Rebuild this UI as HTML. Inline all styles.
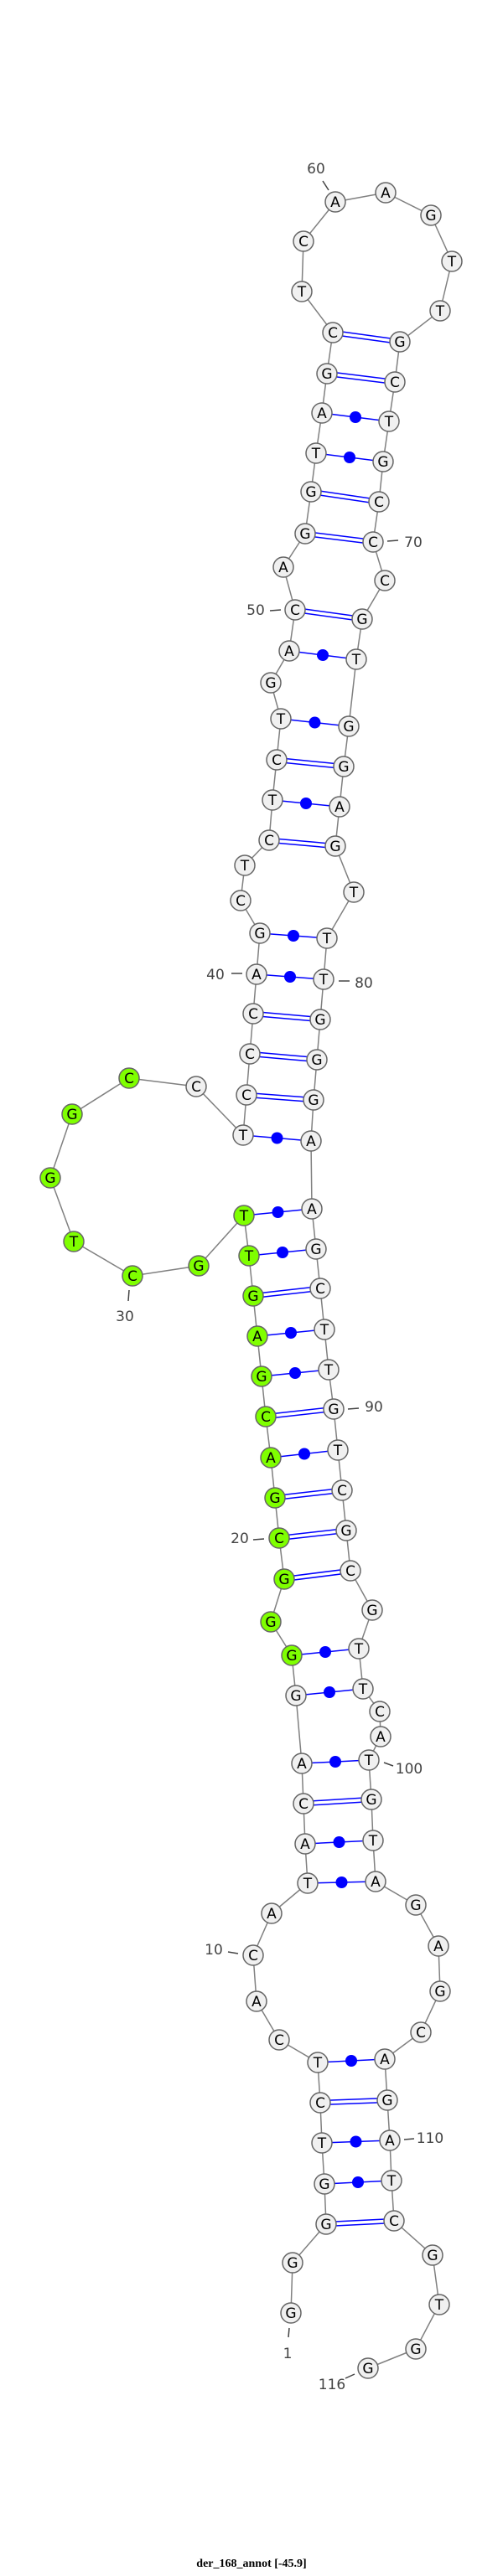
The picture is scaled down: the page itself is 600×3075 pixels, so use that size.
<!DOCTYPE html>
<html><head><meta charset="utf-8"><style>
html,body{margin:0;padding:0;background:#fff;}
svg{display:block;}
.n circle{fill:#f0f0f0;stroke:#666;stroke-width:1.5;}
.n text{font-family:"DejaVu Sans","Liberation Sans",sans-serif;font-size:17px;text-anchor:middle;fill:#000;}
.g circle{fill:#7fff00;}
.lb{font-family:"DejaVu Sans","Liberation Sans",sans-serif;font-size:17px;fill:#444;text-anchor:middle;}
</style></head><body>
<svg width="600" height="3075" viewBox="0 0 600 3075" xmlns="http://www.w3.org/2000/svg">
<polyline fill="none" stroke="#808080" stroke-width="1.5" points="347,2761 349,2701 389,2655 387,2607 384,2558 382,2510 379,2462 333,2435 306,2389 302,2334 324,2284 367,2248 364,2201 362,2153 360,2105 353,2024 348,1976 323,1936 339,1885 333,1836 328,1788 323,1740 317,1691 312,1643 307,1595 302,1547 297,1499 291,1451 237,1511 158,1523 88,1482 60,1406 86,1330 154,1287 234,1297 290,1355 294,1307 298,1258 302,1210 306,1163 310,1114 287,1075 292,1033 321,1003 325,955 330,907 335,858 323,815 345,777 352,728 338,677 364,637 371,587 377,541 384,493 390,446 397,397 360,348 362,288 400,241 460,230 514,257 539,312 525,371 477,408 471,456 464,503 457,551 452,599 445,647 459,693 432,739 425,787 416,867 410,915 405,963 400,1010 422,1065 390,1120 386,1169 382,1217 378,1265 374,1313 371,1362 372,1443 377,1491 382,1538 387,1587 392,1635 398,1682 403,1731 408,1779 413,1827 418,1875 444,1922 428,1968 433,2016 453,2043 454,2073 440,2101 443,2148 445,2197 448,2246 496,2274 523,2323 525,2377 502,2426 459,2458 462,2507 465,2555 467,2603 470,2651 516,2692 524,2751 496,2804 439,2827"/>
<g stroke="#0000ff" stroke-width="1.5">
<g transform="translate(0,-2.5)">
<line x1="389" y1="2655" x2="470" y2="2651"/><line x1="382" y1="2510" x2="462" y2="2507"/><line x1="362" y1="2153" x2="443" y2="2148"/><line x1="339" y1="1885" x2="418" y2="1875"/><line x1="333" y1="1836" x2="413" y2="1827"/><line x1="328" y1="1788" x2="408" y2="1779"/><line x1="317" y1="1691" x2="398" y2="1682"/><line x1="302" y1="1547" x2="382" y2="1538"/><line x1="294" y1="1307" x2="374" y2="1313"/><line x1="298" y1="1258" x2="378" y2="1265"/><line x1="302" y1="1210" x2="382" y2="1217"/><line x1="321" y1="1003" x2="400" y2="1010"/><line x1="330" y1="907" x2="410" y2="915"/><line x1="352" y1="728" x2="432" y2="739"/><line x1="364" y1="637" x2="445" y2="647"/><line x1="371" y1="587" x2="452" y2="599"/><line x1="390" y1="446" x2="471" y2="456"/><line x1="397" y1="397" x2="477" y2="408"/>
</g>
<g transform="translate(0,2.5)">
<line x1="389" y1="2655" x2="470" y2="2651"/><line x1="382" y1="2510" x2="462" y2="2507"/><line x1="362" y1="2153" x2="443" y2="2148"/><line x1="339" y1="1885" x2="418" y2="1875"/><line x1="333" y1="1836" x2="413" y2="1827"/><line x1="328" y1="1788" x2="408" y2="1779"/><line x1="317" y1="1691" x2="398" y2="1682"/><line x1="302" y1="1547" x2="382" y2="1538"/><line x1="294" y1="1307" x2="374" y2="1313"/><line x1="298" y1="1258" x2="378" y2="1265"/><line x1="302" y1="1210" x2="382" y2="1217"/><line x1="321" y1="1003" x2="400" y2="1010"/><line x1="330" y1="907" x2="410" y2="915"/><line x1="352" y1="728" x2="432" y2="739"/><line x1="364" y1="637" x2="445" y2="647"/><line x1="371" y1="587" x2="452" y2="599"/><line x1="390" y1="446" x2="471" y2="456"/><line x1="397" y1="397" x2="477" y2="408"/>
</g>
<line x1="387" y1="2607" x2="467" y2="2603"/><line x1="384" y1="2558" x2="465" y2="2555"/><line x1="379" y1="2462" x2="459" y2="2458"/><line x1="367" y1="2248" x2="448" y2="2246"/><line x1="364" y1="2201" x2="445" y2="2197"/><line x1="360" y1="2105" x2="440" y2="2101"/><line x1="353" y1="2024" x2="433" y2="2016"/><line x1="348" y1="1976" x2="428" y2="1968"/><line x1="323" y1="1740" x2="403" y2="1731"/><line x1="312" y1="1643" x2="392" y2="1635"/><line x1="307" y1="1595" x2="387" y2="1587"/><line x1="297" y1="1499" x2="377" y2="1491"/><line x1="291" y1="1451" x2="372" y2="1443"/><line x1="290" y1="1355" x2="371" y2="1362"/><line x1="306" y1="1163" x2="386" y2="1169"/><line x1="310" y1="1114" x2="390" y2="1120"/><line x1="325" y1="955" x2="405" y2="963"/><line x1="335" y1="858" x2="416" y2="867"/><line x1="345" y1="777" x2="425" y2="787"/><line x1="377" y1="541" x2="457" y2="551"/><line x1="384" y1="493" x2="464" y2="503"/>
</g>
<g fill="#0000ff">
<circle cx="427" cy="2605" r="7"/><circle cx="424.5" cy="2556.5" r="7"/><circle cx="419" cy="2460" r="7"/><circle cx="407.5" cy="2247" r="7"/><circle cx="404.5" cy="2199" r="7"/><circle cx="400" cy="2103" r="7"/><circle cx="393" cy="2020" r="7"/><circle cx="388" cy="1972" r="7"/><circle cx="363" cy="1735.5" r="7"/><circle cx="352" cy="1639" r="7"/><circle cx="347" cy="1591" r="7"/><circle cx="337" cy="1495" r="7"/><circle cx="331.5" cy="1447" r="7"/><circle cx="330.5" cy="1358.5" r="7"/><circle cx="346" cy="1166" r="7"/><circle cx="350" cy="1117" r="7"/><circle cx="365" cy="959" r="7"/><circle cx="375.5" cy="862.5" r="7"/><circle cx="385" cy="782" r="7"/><circle cx="417" cy="546" r="7"/><circle cx="424" cy="498" r="7"/>
</g>
<g class="n">
<g><circle cx="347" cy="2761" r="12"/><text x="347" y="2767">G</text></g>
<g><circle cx="349" cy="2701" r="12"/><text x="349" y="2707">G</text></g>
<g><circle cx="389" cy="2655" r="12"/><text x="389" y="2661">G</text></g>
<g><circle cx="387" cy="2607" r="12"/><text x="387" y="2613">G</text></g>
<g><circle cx="384" cy="2558" r="12"/><text x="384" y="2564">T</text></g>
<g><circle cx="382" cy="2510" r="12"/><text x="382" y="2516">C</text></g>
<g><circle cx="379" cy="2462" r="12"/><text x="379" y="2468">T</text></g>
<g><circle cx="333" cy="2435" r="12"/><text x="333" y="2441">C</text></g>
<g><circle cx="306" cy="2389" r="12"/><text x="306" y="2395">A</text></g>
<g><circle cx="302" cy="2334" r="12"/><text x="302" y="2340">C</text></g>
<g><circle cx="324" cy="2284" r="12"/><text x="324" y="2290">A</text></g>
<g><circle cx="367" cy="2248" r="12"/><text x="367" y="2254">T</text></g>
<g><circle cx="364" cy="2201" r="12"/><text x="364" y="2207">A</text></g>
<g><circle cx="362" cy="2153" r="12"/><text x="362" y="2159">C</text></g>
<g><circle cx="360" cy="2105" r="12"/><text x="360" y="2111">A</text></g>
<g><circle cx="353" cy="2024" r="12"/><text x="353" y="2030">G</text></g>
<g class="g"><circle cx="348" cy="1976" r="12"/><text x="348" y="1982">G</text></g>
<g class="g"><circle cx="323" cy="1936" r="12"/><text x="323" y="1942">G</text></g>
<g class="g"><circle cx="339" cy="1885" r="12"/><text x="339" y="1891">G</text></g>
<g class="g"><circle cx="333" cy="1836" r="12"/><text x="333" y="1842">C</text></g>
<g class="g"><circle cx="328" cy="1788" r="12"/><text x="328" y="1794">G</text></g>
<g class="g"><circle cx="323" cy="1740" r="12"/><text x="323" y="1746">A</text></g>
<g class="g"><circle cx="317" cy="1691" r="12"/><text x="317" y="1697">C</text></g>
<g class="g"><circle cx="312" cy="1643" r="12"/><text x="312" y="1649">G</text></g>
<g class="g"><circle cx="307" cy="1595" r="12"/><text x="307" y="1601">A</text></g>
<g class="g"><circle cx="302" cy="1547" r="12"/><text x="302" y="1553">G</text></g>
<g class="g"><circle cx="297" cy="1499" r="12"/><text x="297" y="1505">T</text></g>
<g class="g"><circle cx="291" cy="1451" r="12"/><text x="291" y="1457">T</text></g>
<g class="g"><circle cx="237" cy="1511" r="12"/><text x="237" y="1517">G</text></g>
<g class="g"><circle cx="158" cy="1523" r="12"/><text x="158" y="1529">C</text></g>
<g class="g"><circle cx="88" cy="1482" r="12"/><text x="88" y="1488">T</text></g>
<g class="g"><circle cx="60" cy="1406" r="12"/><text x="60" y="1412">G</text></g>
<g class="g"><circle cx="86" cy="1330" r="12"/><text x="86" y="1336">G</text></g>
<g class="g"><circle cx="154" cy="1287" r="12"/><text x="154" y="1293">C</text></g>
<g><circle cx="234" cy="1297" r="12"/><text x="234" y="1303">C</text></g>
<g><circle cx="290" cy="1355" r="12"/><text x="290" y="1361">T</text></g>
<g><circle cx="294" cy="1307" r="12"/><text x="294" y="1313">C</text></g>
<g><circle cx="298" cy="1258" r="12"/><text x="298" y="1264">C</text></g>
<g><circle cx="302" cy="1210" r="12"/><text x="302" y="1216">C</text></g>
<g><circle cx="306" cy="1163" r="12"/><text x="306" y="1169">A</text></g>
<g><circle cx="310" cy="1114" r="12"/><text x="310" y="1120">G</text></g>
<g><circle cx="287" cy="1075" r="12"/><text x="287" y="1081">C</text></g>
<g><circle cx="292" cy="1033" r="12"/><text x="292" y="1039">T</text></g>
<g><circle cx="321" cy="1003" r="12"/><text x="321" y="1009">C</text></g>
<g><circle cx="325" cy="955" r="12"/><text x="325" y="961">T</text></g>
<g><circle cx="330" cy="907" r="12"/><text x="330" y="913">C</text></g>
<g><circle cx="335" cy="858" r="12"/><text x="335" y="864">T</text></g>
<g><circle cx="323" cy="815" r="12"/><text x="323" y="821">G</text></g>
<g><circle cx="345" cy="777" r="12"/><text x="345" y="783">A</text></g>
<g><circle cx="352" cy="728" r="12"/><text x="352" y="734">C</text></g>
<g><circle cx="338" cy="677" r="12"/><text x="338" y="683">A</text></g>
<g><circle cx="364" cy="637" r="12"/><text x="364" y="643">G</text></g>
<g><circle cx="371" cy="587" r="12"/><text x="371" y="593">G</text></g>
<g><circle cx="377" cy="541" r="12"/><text x="377" y="547">T</text></g>
<g><circle cx="384" cy="493" r="12"/><text x="384" y="499">A</text></g>
<g><circle cx="390" cy="446" r="12"/><text x="390" y="452">G</text></g>
<g><circle cx="397" cy="397" r="12"/><text x="397" y="403">C</text></g>
<g><circle cx="360" cy="348" r="12"/><text x="360" y="354">T</text></g>
<g><circle cx="362" cy="288" r="12"/><text x="362" y="294">C</text></g>
<g><circle cx="400" cy="241" r="12"/><text x="400" y="247">A</text></g>
<g><circle cx="460" cy="230" r="12"/><text x="460" y="236">A</text></g>
<g><circle cx="514" cy="257" r="12"/><text x="514" y="263">G</text></g>
<g><circle cx="539" cy="312" r="12"/><text x="539" y="318">T</text></g>
<g><circle cx="525" cy="371" r="12"/><text x="525" y="377">T</text></g>
<g><circle cx="477" cy="408" r="12"/><text x="477" y="414">G</text></g>
<g><circle cx="471" cy="456" r="12"/><text x="471" y="462">C</text></g>
<g><circle cx="464" cy="503" r="12"/><text x="464" y="509">T</text></g>
<g><circle cx="457" cy="551" r="12"/><text x="457" y="557">G</text></g>
<g><circle cx="452" cy="599" r="12"/><text x="452" y="605">C</text></g>
<g><circle cx="445" cy="647" r="12"/><text x="445" y="653">C</text></g>
<g><circle cx="459" cy="693" r="12"/><text x="459" y="699">C</text></g>
<g><circle cx="432" cy="739" r="12"/><text x="432" y="745">G</text></g>
<g><circle cx="425" cy="787" r="12"/><text x="425" y="793">T</text></g>
<g><circle cx="416" cy="867" r="12"/><text x="416" y="873">G</text></g>
<g><circle cx="410" cy="915" r="12"/><text x="410" y="921">G</text></g>
<g><circle cx="405" cy="963" r="12"/><text x="405" y="969">A</text></g>
<g><circle cx="400" cy="1010" r="12"/><text x="400" y="1016">G</text></g>
<g><circle cx="422" cy="1065" r="12"/><text x="422" y="1071">T</text></g>
<g><circle cx="390" cy="1120" r="12"/><text x="390" y="1126">T</text></g>
<g><circle cx="386" cy="1169" r="12"/><text x="386" y="1175">T</text></g>
<g><circle cx="382" cy="1217" r="12"/><text x="382" y="1223">G</text></g>
<g><circle cx="378" cy="1265" r="12"/><text x="378" y="1271">G</text></g>
<g><circle cx="374" cy="1313" r="12"/><text x="374" y="1319">G</text></g>
<g><circle cx="371" cy="1362" r="12"/><text x="371" y="1368">A</text></g>
<g><circle cx="372" cy="1443" r="12"/><text x="372" y="1449">A</text></g>
<g><circle cx="377" cy="1491" r="12"/><text x="377" y="1497">G</text></g>
<g><circle cx="382" cy="1538" r="12"/><text x="382" y="1544">C</text></g>
<g><circle cx="387" cy="1587" r="12"/><text x="387" y="1593">T</text></g>
<g><circle cx="392" cy="1635" r="12"/><text x="392" y="1641">T</text></g>
<g><circle cx="398" cy="1682" r="12"/><text x="398" y="1688">G</text></g>
<g><circle cx="403" cy="1731" r="12"/><text x="403" y="1737">T</text></g>
<g><circle cx="408" cy="1779" r="12"/><text x="408" y="1785">C</text></g>
<g><circle cx="413" cy="1827" r="12"/><text x="413" y="1833">G</text></g>
<g><circle cx="418" cy="1875" r="12"/><text x="418" y="1881">C</text></g>
<g><circle cx="444" cy="1922" r="12"/><text x="444" y="1928">G</text></g>
<g><circle cx="428" cy="1968" r="12"/><text x="428" y="1974">T</text></g>
<g><circle cx="433" cy="2016" r="12"/><text x="433" y="2022">T</text></g>
<g><circle cx="453" cy="2043" r="12"/><text x="453" y="2049">C</text></g>
<g><circle cx="454" cy="2073" r="12"/><text x="454" y="2079">A</text></g>
<g><circle cx="440" cy="2101" r="12"/><text x="440" y="2107">T</text></g>
<g><circle cx="443" cy="2148" r="12"/><text x="443" y="2154">G</text></g>
<g><circle cx="445" cy="2197" r="12"/><text x="445" y="2203">T</text></g>
<g><circle cx="448" cy="2246" r="12"/><text x="448" y="2252">A</text></g>
<g><circle cx="496" cy="2274" r="12"/><text x="496" y="2280">G</text></g>
<g><circle cx="523" cy="2323" r="12"/><text x="523" y="2329">A</text></g>
<g><circle cx="525" cy="2377" r="12"/><text x="525" y="2383">G</text></g>
<g><circle cx="502" cy="2426" r="12"/><text x="502" y="2432">C</text></g>
<g><circle cx="459" cy="2458" r="12"/><text x="459" y="2464">A</text></g>
<g><circle cx="462" cy="2507" r="12"/><text x="462" y="2513">G</text></g>
<g><circle cx="465" cy="2555" r="12"/><text x="465" y="2561">A</text></g>
<g><circle cx="467" cy="2603" r="12"/><text x="467" y="2609">T</text></g>
<g><circle cx="470" cy="2651" r="12"/><text x="470" y="2657">C</text></g>
<g><circle cx="516" cy="2692" r="12"/><text x="516" y="2698">G</text></g>
<g><circle cx="524" cy="2751" r="12"/><text x="524" y="2757">T</text></g>
<g><circle cx="496" cy="2804" r="12"/><text x="496" y="2810">G</text></g>
<g><circle cx="439" cy="2827" r="12"/><text x="439" y="2833">G</text></g>
</g>
<g stroke="#444" stroke-width="1.5">
<line x1="385" y1="216" x2="392" y2="227"/>
<line x1="462" y1="646" x2="475" y2="645"/>
<line x1="322" y1="729" x2="335" y2="728"/>
<line x1="276" y1="1162" x2="289" y2="1162"/>
<line x1="404" y1="1171" x2="417" y2="1171"/>
<line x1="154" y1="1540" x2="153" y2="1553"/>
<line x1="415" y1="1682" x2="428" y2="1681"/>
<line x1="302" y1="1838" x2="315" y2="1837"/>
<line x1="458" y1="2104" x2="469" y2="2108"/>
<line x1="272" y1="2330" x2="284" y2="2332"/>
<line x1="482" y1="2554" x2="494" y2="2553"/>
<line x1="345" y1="2779" x2="344" y2="2790"/>
<line x1="412" y1="2839" x2="423" y2="2834"/>
</g>
<g class="lb">
<text x="377" y="207">60</text>
<text x="493" y="653">70</text>
<text x="305" y="734">50</text>
<text x="257" y="1169">40</text>
<text x="434" y="1179">80</text>
<text x="149" y="1577">30</text>
<text x="446" y="1685">90</text>
<text x="286" y="1842">20</text>
<text x="488" y="2117">100</text>
<text x="255" y="2333">10</text>
<text x="513" y="2558">110</text>
<text x="343" y="2815">1</text>
<text x="396" y="2852">116</text>
</g>
<text x="300" y="3064" font-family="Liberation Serif, serif" font-size="14" font-weight="bold" text-anchor="middle" fill="#000">der_168_annot [-45.9]</text>
</svg>
</body></html>
